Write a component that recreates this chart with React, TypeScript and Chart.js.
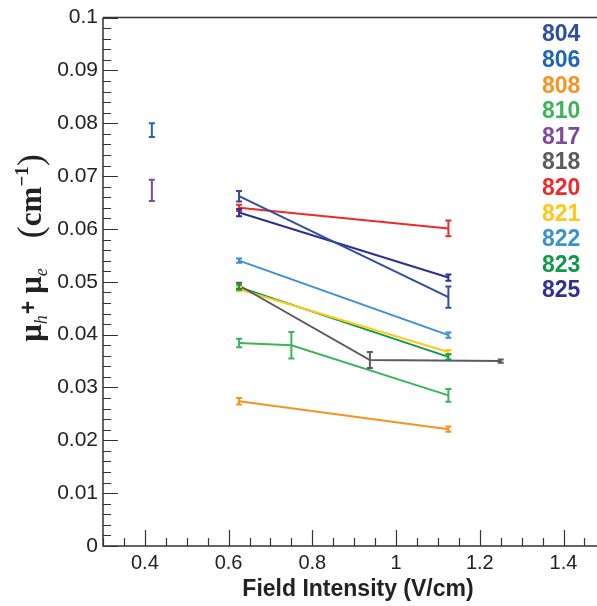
import React, { useEffect, useRef } from "react";
import { Chart, registerables } from "chart.js";

Chart.register(...registerables);

// ---- data ----
const SERIES_NAMES = ["804", "806", "808", "810", "817", "818", "820", "821", "822", "823", "825"];
const SERIES_COLORS = ["#2D4FA2", "#1F66B8", "#F7931E", "#3DB45A", "#7D4A9E", "#5B5B5B", "#EE2A2A", "#FFC81A", "#3C90D5", "#0D9A49", "#2E3192"];

const X_804 = [0.625, 1.125];
const Y_804 = [0.0662, 0.0471];
const E_804 = [0.001, 0.002];

const X_806 = [0.4167];
const Y_806 = [0.0787];
const E_806 = [0.0013];

const X_808 = [0.625, 1.125];
const Y_808 = [0.0274, 0.0221];
const E_808 = [0.0006, 0.0005];

const X_810 = [0.625, 0.75, 1.125];
const Y_810 = [0.0384, 0.038, 0.0285];
const E_810 = [0.0008, 0.0025, 0.0012];

const X_817 = [0.4167];
const Y_817 = [0.0673];
const E_817 = [0.002];

const X_818 = [0.625, 0.9375, 1.25];
const Y_818 = [0.0493, 0.0352, 0.035];
const E_818 = [0.0005, 0.0015, 0.0003];

const X_820 = [0.625, 1.125];
const Y_820 = [0.064, 0.0601];
const E_820 = [0.0006, 0.0015];

const X_821 = [0.625, 1.125];
const Y_821 = [0.0486, 0.0367];
const E_821 = [0.0004, 0.0004];

const X_822 = [0.625, 1.125];
const Y_822 = [0.054, 0.0399];
const E_822 = [0.0004, 0.0005];

const X_823 = [0.625, 1.125];
const Y_823 = [0.049, 0.0358];
const E_823 = [0.0005, 0.0005];

const X_825 = [0.625, 1.125];
const Y_825 = [0.0631, 0.0508];
const E_825 = [0.0007, 0.0006];

const SERIES_X = [X_804, X_806, X_808, X_810, X_817, X_818, X_820, X_821, X_822, X_823, X_825];
const SERIES_Y = [Y_804, Y_806, Y_808, Y_810, Y_817, Y_818, Y_820, Y_821, Y_822, Y_823, Y_825];
const SERIES_E = [E_804, E_806, E_808, E_810, E_817, E_818, E_820, E_821, E_822, E_823, E_825];

const X_TICKS = [0.4, 0.6, 0.8, 1, 1.2, 1.4];
const Y_TICKS = [0, 0.01, 0.02, 0.03, 0.04, 0.05, 0.06, 0.07, 0.08, 0.09, 0.1];
const X_MINOR_STEP = 0.05;
const Y_MINOR_STEP = 0.002;
const X_MIN = 0.3;
const X_MAX = 1.48;
const Y_MIN = 0;
const Y_MAX = 0.1;

const X_TITLE = "Field Intensity (V/cm)";

const AXIS_COLOR = "#333333";
const TEXT_COLOR = "#222222";
const SANS = "'Liberation Sans', Arial, Helvetica, sans-serif";
const SERIF = "'Liberation Serif', 'Times New Roman', serif";

const decorPlugin = {
  id: "decor",
  afterDatasetsDraw(chart: any) {
    const ctx = chart.ctx as CanvasRenderingContext2D;
    const xs = chart.scales.x;
    const ys = chart.scales.y;
    const area = chart.chartArea;
    ctx.save();
    // error bars
    chart.data.datasets.forEach((ds: any) => {
      ctx.strokeStyle = ds.borderColor;
      ctx.lineWidth = 2;
      ds.data.forEach((p: any, j: number) => {
        const e = ds.errors[j];
        const px = xs.getPixelForValue(p.x);
        const y1 = ys.getPixelForValue(p.y + e);
        const y2 = ys.getPixelForValue(p.y - e);
        ctx.beginPath();
        ctx.moveTo(px, y1);
        ctx.lineTo(px, y2);
        ctx.moveTo(px - 3, y1);
        ctx.lineTo(px + 3, y1);
        ctx.moveTo(px - 3, y2);
        ctx.lineTo(px + 3, y2);
        ctx.stroke();
      });
    });

    // axes frame
    ctx.strokeStyle = AXIS_COLOR;
    ctx.lineWidth = 1.5;
    ctx.beginPath();
    ctx.moveTo(area.left, area.top);
    ctx.lineTo(area.right, area.top);
    ctx.moveTo(area.left, area.top);
    ctx.lineTo(area.left, area.bottom);
    ctx.lineTo(area.right, area.bottom);
    ctx.stroke();

    ctx.lineWidth = 1.2;
    ctx.beginPath();
    // y ticks
    const nY = Math.round((Y_MAX - Y_MIN) / Y_MINOR_STEP);
    for (let i = 0; i <= nY; i++) {
      const v = Y_MIN + i * Y_MINOR_STEP;
      const py = Math.round(ys.getPixelForValue(v)) + 0.5;
      const major = i % 5 === 0;
      ctx.moveTo(area.left, py);
      ctx.lineTo(area.left + (major ? 15 : 8), py);
    }
    // x ticks
    const nX = Math.floor((X_MAX - X_MIN) / X_MINOR_STEP + 1e-6);
    for (let i = 0; i <= nX; i++) {
      const v = X_MIN + i * X_MINOR_STEP;
      const px = Math.round(xs.getPixelForValue(v)) + 0.5;
      const major = X_TICKS.some((t) => Math.abs(t - v) < 1e-6);
      ctx.moveTo(px, area.bottom);
      ctx.lineTo(px, area.bottom - (major ? 16 : 8));
    }
    ctx.stroke();

    // legend labels
    ctx.font = `bold 23px ${SANS}`;
    ctx.textAlign = "left";
    ctx.textBaseline = "middle";
    SERIES_NAMES.forEach((name, i) => {
      ctx.fillStyle = SERIES_COLORS[i];
      ctx.fillText(name, 542, 35 + i * 25.6);
    });

    // x title
    ctx.fillStyle = TEXT_COLOR;
    ctx.font = `bold 23px ${SANS}`;
    ctx.textAlign = "center";
    ctx.textBaseline = "middle";
    ctx.fillText(X_TITLE, 358, 590);

    // y title (rotated)
    const segs: { t: string; f: string; dy: number; gap: number }[] = [
      { t: "\u03bc", f: `bold 31px ${SERIF}`, dy: 0, gap: 0 },
      { t: "h", f: `italic 18px ${SERIF}`, dy: 6, gap: 1 },
      { t: "+", f: `bold 23px ${SANS}`, dy: -5, gap: 7 },
      { t: "\u03bc", f: `bold 31px ${SERIF}`, dy: 0, gap: 0 },
      { t: "e", f: `italic 18px ${SERIF}`, dy: 6, gap: 30 },
      { t: "(", f: `36px ${SERIF}`, dy: 1, gap: 0 },
      { t: "cm", f: `bold 31px ${SERIF}`, dy: 0, gap: 0 },
      { t: "\u22121", f: `bold 19px ${SERIF}`, dy: -13, gap: 0 },
      { t: ")", f: `36px ${SERIF}`, dy: 1, gap: 0 },
    ];
    let total = 0;
    const widths = segs.map((s) => {
      ctx.font = s.f;
      const w = ctx.measureText(s.t).width + s.gap;
      total += w;
      return w;
    });
    ctx.translate(41, 248);
    ctx.rotate(-Math.PI / 2);
    ctx.textAlign = "left";
    ctx.textBaseline = "alphabetic";
    let cx = -total / 2;
    segs.forEach((s, i) => {
      ctx.font = s.f;
      ctx.fillText(s.t, cx, s.dy);
      cx += widths[i];
    });
    ctx.restore();
  },
};

export default function App() {
  const ref = useRef<HTMLCanvasElement | null>(null);
  useEffect(() => {
    if (!ref.current) return;
    const datasets = SERIES_NAMES.map((name, i) => ({
      label: name,
      data: SERIES_X[i].map((x, j) => ({ x, y: SERIES_Y[i][j] })),
      errors: SERIES_E[i],
      borderColor: SERIES_COLORS[i],
      backgroundColor: SERIES_COLORS[i],
      borderWidth: 2,
      showLine: true,
      pointRadius: 0,
      pointHoverRadius: 0,
    }));
    const chart = new Chart(ref.current, {
      type: "scatter",
      data: { datasets: datasets as any },
      options: {
        animation: false,
        responsive: false,
        devicePixelRatio: 1,
        layout: { padding: { left: 0, right: 0, top: 16, bottom: 0 } },
        plugins: { legend: { display: false }, tooltip: { enabled: false } },
        scales: {
          x: {
            type: "linear",
            min: X_MIN,
            max: X_MAX,
            grid: { display: false, drawTicks: false },
            border: { display: false },
            afterBuildTicks: (axis: any) => {
              axis.ticks = X_TICKS.map((v) => ({ value: v }));
            },
            afterFit: (s: any) => {
              s.height = 60;
            },
            ticks: {
              padding: 5,
              autoSkip: false,
              maxRotation: 0,
              color: TEXT_COLOR,
              font: { family: SANS, size: 20 },
              callback: (v: any) => String(Math.round(Number(v) * 100) / 100),
            },
          },
          y: {
            type: "linear",
            min: Y_MIN,
            max: Y_MAX,
            grid: { display: false, drawTicks: false },
            border: { display: false },
            afterBuildTicks: (axis: any) => {
              axis.ticks = Y_TICKS.map((v) => ({ value: v }));
            },
            afterFit: (s: any) => {
              s.width = 103;
            },
            ticks: {
              padding: 5,
              autoSkip: false,
              color: TEXT_COLOR,
              font: { family: SANS, size: 21 },
              callback: (v: any) => String(Math.round(Number(v) * 1000) / 1000),
            },
          },
        },
      },
      plugins: [decorPlugin],
    });
    return () => chart.destroy();
  }, []);
  return (
    <div style={{ position: "fixed", left: 0, top: 0, width: 597, height: 606, background: "#fff" }}>
      <canvas ref={ref} width={597} height={606} style={{ display: "block" }} />
    </div>
  );
}
